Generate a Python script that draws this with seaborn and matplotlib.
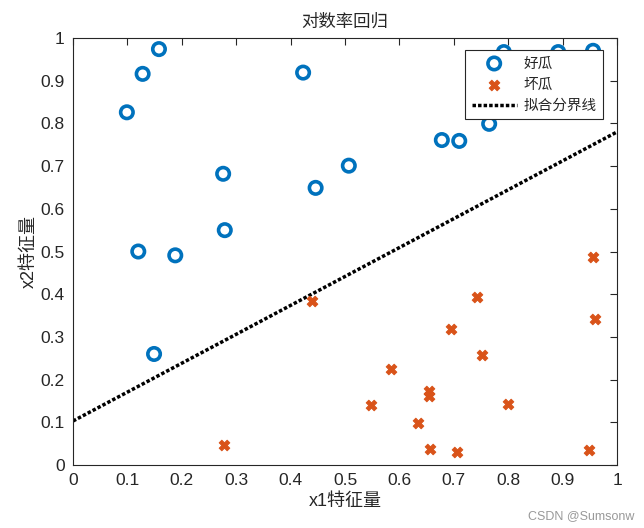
import matplotlib
matplotlib.use("Agg")
import matplotlib.pyplot as plt
import seaborn as sns
import numpy as np
import pandas as pd

# Data
good_x1 = [0.158, 0.128, 0.099, 0.423, 0.276, 0.446, 0.507, 0.279, 0.120, 0.188,
           0.149, 0.678, 0.710, 0.765, 0.792, 0.892, 0.956]
good_x2 = [0.974, 0.916, 0.826, 0.919, 0.682, 0.649, 0.701, 0.550, 0.500, 0.491,
           0.260, 0.761, 0.759, 0.799, 0.967, 0.967, 0.970]
bad_x1 = [0.743, 0.960, 0.695, 0.751, 0.585, 0.655, 0.655, 0.634, 0.800, 0.657,
          0.706, 0.949, 0.439, 0.548, 0.278, 0.956]
bad_x2 = [0.393, 0.341, 0.318, 0.257, 0.224, 0.173, 0.162, 0.098, 0.142, 0.037,
          0.031, 0.034, 0.384, 0.140, 0.047, 0.487]
line_x1 = [0.0, 1.0]
line_x2 = [0.103, 0.780]

title = "对数率回归"
xlabel = "x1特征量"
ylabel = "x2特征量"
labels = ["好瓜", "坏瓜", "拟合分界线"]
ticks = [round(0.1 * i, 1) for i in range(11)]
tick_labels = ["0", "0.1", "0.2", "0.3", "0.4", "0.5", "0.6", "0.7", "0.8", "0.9", "1"]

sns.set_style("white")
plt.rcParams['font.family'] = ['Liberation Sans', 'Noto Sans CJK SC', 'DejaVu Sans']

fig = plt.figure(figsize=(6.44, 5.28), dpi=100)
ax = fig.add_axes([73 / 644, 63 / 528, 544 / 644, 427 / 528])

good = pd.DataFrame({"x1": good_x1, "x2": good_x2})
bad = pd.DataFrame({"x1": bad_x1, "x2": bad_x2})
line = pd.DataFrame({"x1": line_x1, "x2": line_x2})

sns.scatterplot(data=good, x="x1", y="x2", ax=ax, marker="o", s=80,
                facecolor="none", edgecolor="#0072BD", linewidth=2.6,
                label=labels[0], zorder=3)
sns.scatterplot(data=bad, x="x1", y="x2", ax=ax, marker="X", s=60,
                color="#D95319", edgecolor="#D95319", linewidth=0.6,
                label=labels[1], zorder=3)
sns.lineplot(data=line, x="x1", y="x2", ax=ax, color="black",
             linestyle=(0, (1.0, 0.6)), linewidth=2.5, label=labels[2], zorder=2)

ax.set_xlim(0, 1)
ax.set_ylim(0, 1)
ax.set_xticks(ticks)
ax.set_xticklabels(tick_labels)
ax.set_yticks(ticks)
ax.set_yticklabels(tick_labels)
ax.tick_params(direction="in", length=5, width=0.8, top=True, right=True,
               labelsize=12.5, colors="#262626", pad=6)
for sp in ax.spines.values():
    sp.set_visible(True)
    sp.set_color("#262626")
    sp.set_linewidth(0.8)

ax.set_title(title, fontsize=12.5, color="#262626", pad=8)
ax.set_xlabel(xlabel, fontsize=13, color="#262626", labelpad=3)
ax.set_ylabel(ylabel, fontsize=13, color="#262626", labelpad=2)

leg = ax.legend(loc="upper right", bbox_to_anchor=(0.9743, 0.9725), fontsize=10.5,
                frameon=True, fancybox=False, framealpha=1, edgecolor="#262626",
                handlelength=3.1, borderpad=0.45, labelspacing=0.5, handletextpad=0.45,
                borderaxespad=0.0)
leg.get_frame().set_linewidth(0.8)
leg.set_zorder(10)

fig.text(0.985, 0.012, "CSDN @Sumsonw", ha="right", va="bottom", fontsize=9, color="#999999")

fig.savefig("out.png", dpi=100)
